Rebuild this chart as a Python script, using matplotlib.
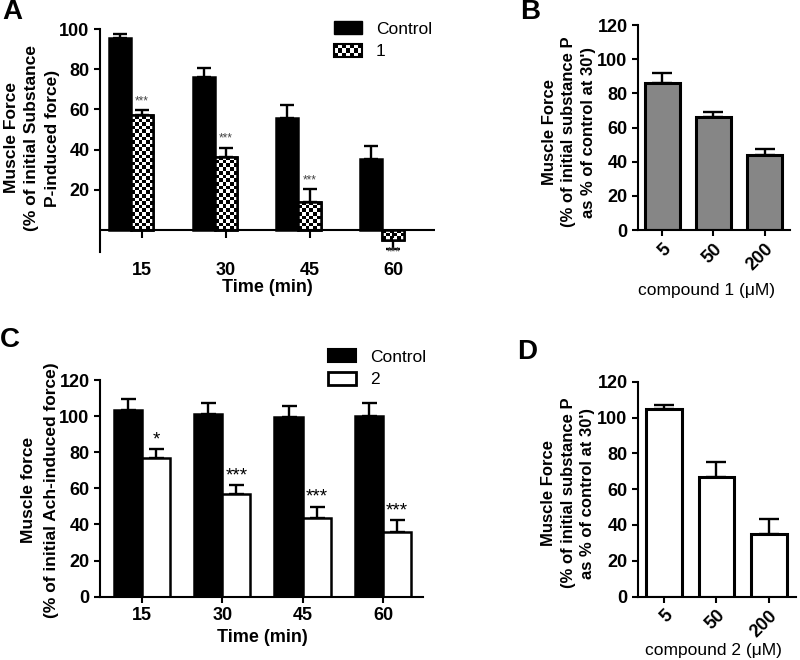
import numpy as np
import matplotlib
matplotlib.use('Agg')
import matplotlib.pyplot as plt
from matplotlib.patches import Rectangle, Patch
from matplotlib.legend_handler import HandlerBase

plt.rcParams['font.family'] = ['Liberation Sans', 'DejaVu Sans']

# ---- data ----
times = ['15', '30', '45', '60']

a_control = [95.5, 76.0, 55.7, 35.5]
a_control_err = [2.2, 4.8, 6.5, 6.5]
a_cmp1 = [57.0, 36.5, 14.0, -5.0]
a_cmp1_err = [2.6, 4.5, 6.3, 4.5]
a_stars = ['***', '***', '***', '***']

doses = ['5', '50', '200']
b_vals = [86.0, 66.3, 44.0]
b_err = [6.0, 3.0, 3.5]

c_control = [103.4, 101.0, 99.3, 100.0]
c_control_err = [6.0, 6.0, 6.3, 7.4]
c_cmp2 = [77.0, 57.0, 43.7, 36.0]
c_cmp2_err = [4.8, 4.9, 6.1, 6.5]
c_stars = ['*', '***', '***', '***']

d_vals = [104.7, 67.0, 34.8]
d_err = [2.3, 8.0, 8.7]

LW = 1.8


def style_axis(ax):
    for s in ['top', 'right']:
        ax.spines[s].set_visible(False)
    for s in ['left', 'bottom']:
        ax.spines[s].set_linewidth(1.5)
    ax.tick_params(width=1.5, length=4, labelsize=13)
    for lab in ax.get_yticklabels() + ax.get_xticklabels():
        lab.set_fontweight('bold')


def up_err(ax, x, y, e, cap):
    lo = [0 if v >= 0 else ee for v, ee in zip(y, e)]
    hi = [ee if v >= 0 else 0 for v, ee in zip(y, e)]
    ax.errorbar(x, y, yerr=[lo, hi], fmt='none', ecolor='k', elinewidth=1.7,
                capsize=cap, capthick=1.7, zorder=1)


def checker_fill(ax, bars, cell_px=3.6):
    fig = ax.figure
    fig.canvas.draw()
    for b in bars:
        x0, y0 = b.get_x(), b.get_y()
        w, h = b.get_width(), b.get_height()
        p0 = ax.transData.transform((x0, y0))
        p1 = ax.transData.transform((x0 + w, y0 + h))
        nx = max(1, int(round(abs(p1[0] - p0[0]) / cell_px)))
        ny = max(1, int(round(abs(p1[1] - p0[1]) / cell_px)))
        board = (np.add.outer(np.arange(ny), np.arange(nx)) % 2).astype(float)
        ylo, yhi = sorted([y0, y0 + h])
        im = ax.imshow(board, cmap='gray', extent=(x0, x0 + w, ylo, yhi),
                       aspect='auto', interpolation='nearest', zorder=2,
                       origin='lower')
        im.set_clip_path(b)


class CheckerHandler(HandlerBase):
    def create_artists(self, legend, orig_handle, xdescent, ydescent,
                       width, height, fontsize, trans):
        arts = [Rectangle((-xdescent, -ydescent), width, height, fc='white',
                          ec='k', lw=1.5, transform=trans)]
        nx, ny = 7, 3
        for i in range(nx):
            for j in range(ny):
                if (i + j) % 2 == 0:
                    arts.append(Rectangle((-xdescent + i * width / nx,
                                           -ydescent + j * height / ny),
                                          width / nx, height / ny, fc='k',
                                          ec='none', transform=trans))
        return arts


fig = plt.figure(figsize=(8, 6.6), dpi=100)

# ---------------- panel A ----------------
axA = fig.add_axes([0.125, 0.618, 0.419, 0.338])
pos = np.arange(len(times))
bw = 0.265
axA.bar(pos - bw, a_control, bw, color='k', edgecolor='k', lw=LW, zorder=2)
up_err(axA, pos - bw, a_control, a_control_err, 4.7)
b1 = axA.bar(pos, a_cmp1, bw, color='white', edgecolor='k', lw=LW, zorder=2)
axA.bar(pos, a_cmp1, bw, fill=False, edgecolor='k', lw=LW, zorder=3)
up_err(axA, pos, a_cmp1, a_cmp1_err, 4.7)
axA.set_xlim(-0.503, 3.5)
axA.set_ylim(-11, 100)
axA.set_yticks([20, 40, 60, 80, 100])
axA.spines['bottom'].set_visible(False)
axA.axhline(0, color='k', lw=1.5, zorder=4)
axA.vlines(pos, -4, 0, color='k', lw=1.5, zorder=4)
axA.set_xticks(pos)
axA.set_xticklabels(times)
style_axis(axA)
axA.tick_params(axis='x', length=0, pad=7)
for p, v, e, s in zip(pos, a_cmp1, a_cmp1_err, a_stars):
    if v >= 0:
        axA.text(p, v + e + 1.5, s, ha='center', va='bottom', fontsize=8.5,
                 color='#444444')
    else:
        axA.text(p, v - e - 1.8, s, ha='center', va='center', fontsize=8.5,
                 color='#444444', clip_on=False, zorder=5)
checker_fill(axA, b1)
handles = [Patch(fc='k', ec='k'), Rectangle((0, 0), 1, 1)]
axA.legend(handles, ['Control', '1'],
           handler_map={Rectangle: CheckerHandler()},
           loc='upper left', bbox_to_anchor=(0.418, 0.968),
           bbox_transform=fig.transFigure, frameon=False, fontsize=12.5,
           borderpad=0, borderaxespad=0, handlelength=1.6, handleheight=0.8,
           handletextpad=0.8, labelspacing=0.4)
fig.text(0.04, 0.791, 'Muscle Force\n(% of initial Substance\nP-induced force)',
         rotation=90, ha='center', va='center', fontsize=12.5,
         fontweight='bold', multialignment='center', linespacing=1.45)
fig.text(267 / 800, 1 - 288 / 660, 'Time (min)', ha='center', va='center',
         fontsize=13, fontweight='bold')

# ---------------- panel B ----------------
axB = fig.add_axes([0.7975, 0.6515, 0.19, 0.3105])
xb = np.arange(len(doses))
axB.bar(xb, b_vals, 0.68, color='#868686', edgecolor='k', lw=2.2, zorder=2)
up_err(axB, xb, b_vals, b_err, 7)
axB.set_xlim(-0.47, 2.49)
axB.set_ylim(0, 120)
axB.set_yticks(range(0, 121, 20))
axB.set_xticks(xb)
axB.set_xticklabels(doses, rotation=45, ha='right', rotation_mode='anchor')
style_axis(axB)
fig.text(569 / 800, 0.8, "Muscle Force\n(% of initial substance P\nas % of control at 30')",
         rotation=90, ha='center', va='center', fontsize=12,
         fontweight='bold', multialignment='center', linespacing=1.4)
fig.text(707 / 800, 1 - 290 / 660, 'compound 1 (μM)', ha='center',
         va='center', fontsize=12.5)

# ---------------- panel C ----------------
axC = fig.add_axes([0.125, 0.096, 0.404, 0.3282])
bwc = 0.35
axC.bar(pos - bwc / 2, c_control, bwc, color='k', edgecolor='k', lw=LW, zorder=2)
up_err(axC, pos - bwc / 2, c_control, c_control_err, 5.4)
axC.bar(pos + bwc / 2, c_cmp2, bwc, color='white', edgecolor='k', lw=LW, zorder=2)
up_err(axC, pos + bwc / 2, c_cmp2, c_cmp2_err, 5.4)
axC.set_xlim(-0.52, 3.5)
axC.set_ylim(0, 120)
axC.set_yticks(range(0, 121, 20))
axC.set_xticks(pos)
axC.set_xticklabels(times)
style_axis(axC)
for p, v, e, s in zip(pos, c_cmp2, c_cmp2_err, c_stars):
    axC.text(p + bwc / 2, v + e + 0.5, s, ha='center', va='bottom',
             fontsize=13.5)
axC.legend([Patch(fc='k', ec='k', lw=1.5), Patch(fc='white', ec='k', lw=2)],
           ['Control', '2'], loc='upper left',
           bbox_to_anchor=(0.41, 1 - 349 / 660),
           bbox_transform=fig.transFigure, frameon=False, fontsize=12.5,
           borderpad=0, borderaxespad=0, handlelength=1.6, handleheight=0.8,
           handletextpad=0.8, labelspacing=0.4)
fig.text(0.05, 0.258, 'Muscle force\n(% of initial Ach-induced force)',
         rotation=90, ha='center', va='center', fontsize=12.5,
         fontweight='bold', multialignment='center', linespacing=1.6)
fig.text(262 / 800, 1 - 638 / 660, 'Time (min)', ha='center', va='center',
         fontsize=13, fontweight='bold')

# ---------------- panel D ----------------
axD = fig.add_axes([0.7975, 0.096, 0.1975, 0.3257])
axD.bar(xb, d_vals, 0.68, color='white', edgecolor='k', lw=2.2, zorder=2)
up_err(axD, xb, d_vals, d_err, 7)
axD.set_xlim(-0.5, 2.52)
axD.set_ylim(0, 120)
axD.set_yticks(range(0, 121, 20))
axD.set_xticks(xb)
axD.set_xticklabels(doses, rotation=45, ha='right', rotation_mode='anchor')
style_axis(axD)
fig.text(568 / 800, 0.253, "Muscle Force\n(% of initial substance P\nas % of control at 30')",
         rotation=90, ha='center', va='center', fontsize=12,
         fontweight='bold', multialignment='center', linespacing=1.4)
fig.text(713 / 800, 1 - 650 / 660, 'compound 2 (μM)', ha='center',
         va='center', fontsize=12.5)

# panel letters
for txt, x, y in [('A', 12, 12), ('B', 530, 12), ('C', 10, 340), ('D', 527, 352)]:
    fig.text(x / 800, 1 - y / 660, txt, ha='center', va='center',
             fontsize=20, fontweight='bold')

fig.savefig('out.png', dpi=100)
